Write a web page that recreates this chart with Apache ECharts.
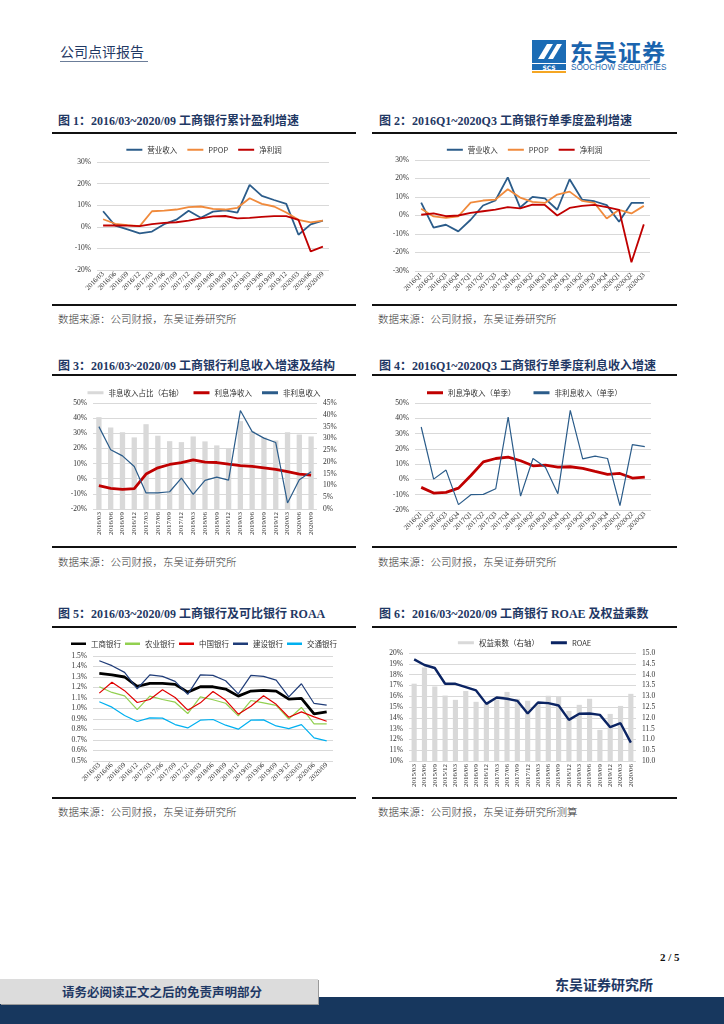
<!DOCTYPE html>
<html><head><meta charset="utf-8">
<script src="https://cdn.jsdelivr.net/npm/echarts@6.0.0/dist/echarts.min.js"></script>
<style>
html,body{margin:0;padding:0;background:#fff;}
#page{position:relative;width:724px;height:1024px;overflow:hidden;background:#fff;font-family:"Liberation Serif","Noto Sans CJK SC",serif;}
.abs{position:absolute;white-space:nowrap;}
.title{font-size:12px;font-weight:bold;color:#1F3864;line-height:14px;}
.src{font-size:10.5px;color:#333;line-height:12px;font-family:"Noto Sans CJK SC",sans-serif;font-weight:300;}
.rule{position:absolute;height:2px;background:#111;}
.chart{position:absolute;}
</style>
</head><body>
<div id="page">
  <!-- header -->
  <div class="abs" style="left:60px;top:43px;font-size:14px;color:#1F3864;font-family:'Noto Sans CJK SC';line-height:17px;">公司点评报告</div>
  <div class="abs" style="left:60px;top:61px;width:88px;height:1px;background:#6b7d99;"></div>
  <svg class="abs" style="left:532px;top:40px" width="36" height="33" viewBox="0 0 36 33">
    <rect x="0" y="0" width="34" height="23" fill="#1b6cb5"/>
    <path d="M6 19 L15 4 L21 4 L12 19 Z" fill="#fff"/>
    <path d="M16 19 L25 4 L30 4 L21 19 Z" fill="#fff"/>
    <rect x="0" y="24" width="34" height="6" fill="#1b6cb5"/>
    <text x="17" y="29.5" font-size="6" fill="#fff" text-anchor="middle" font-family="DejaVu Sans" font-weight="bold">SCS</text>
    <rect x="0" y="31" width="34" height="2" fill="#f5a623"/>
  </svg>
  <div class="abs" style="left:570px;top:38px;font-size:23px;font-weight:bold;color:#1b64ae;font-family:'Noto Sans CJK SC';line-height:26px;letter-spacing:1px;">东吴证券</div>
  <div class="abs" style="left:571px;top:63px;font-size:8.2px;color:#1b64ae;font-family:'Liberation Sans';line-height:10px;">SOOCHOW SECURITIES</div>

  <!-- row 1 -->
  <div class="abs title" style="left:58px;top:114px;">图 1：2016/03~2020/09 工商银行累计盈利增速</div>
  <div class="abs title" style="left:379px;top:114px;">图 2：2016Q1~2020Q3 工商银行单季度盈利增速</div>
  <div class="rule" style="left:52px;top:132px;width:304px;"></div>
  <div class="rule" style="left:372px;top:132px;width:305px;"></div>
  <div class="chart" id="c1" style="left:52px;top:135px;width:304px;height:168px;"></div>
  <div class="chart" id="c2" style="left:372px;top:135px;width:305px;height:168px;"></div>
  <div class="rule" style="left:52px;top:304px;width:304px;"></div>
  <div class="rule" style="left:372px;top:304px;width:305px;"></div>
  <div class="abs src" style="left:58px;top:313px;">数据来源：公司财报，东吴证券研究所</div>
  <div class="abs src" style="left:378px;top:313px;">数据来源：公司财报，东吴证券研究所</div>

  <!-- row 2 -->
  <div class="abs title" style="left:58px;top:359px;">图 3：2016/03~2020/09 工商银行利息收入增速及结构</div>
  <div class="abs title" style="left:379px;top:359px;">图 4：2016Q1~2020Q3 工商银行单季度利息收入增速</div>
  <div class="rule" style="left:52px;top:374px;width:304px;"></div>
  <div class="rule" style="left:372px;top:374px;width:305px;"></div>
  <div class="chart" id="c3" style="left:52px;top:376px;width:304px;height:170px;"></div>
  <div class="chart" id="c4" style="left:372px;top:376px;width:305px;height:170px;"></div>
  <div class="rule" style="left:52px;top:546px;width:304px;"></div>
  <div class="rule" style="left:372px;top:546px;width:305px;"></div>
  <div class="abs src" style="left:58px;top:556px;">数据来源：公司财报，东吴证券研究所</div>
  <div class="abs src" style="left:378px;top:556px;">数据来源：公司财报，东吴证券研究所</div>

  <!-- row 3 -->
  <div class="abs title" style="left:58px;top:607px;">图 5：2016/03~2020/09 工商银行及可比银行 ROAA</div>
  <div class="abs title" style="left:379px;top:607px;">图 6：2016/03~2020/09 工商银行 ROAE 及权益乘数</div>
  <div class="rule" style="left:52px;top:626px;width:304px;"></div>
  <div class="rule" style="left:372px;top:626px;width:305px;"></div>
  <div class="chart" id="c5" style="left:52px;top:628px;width:304px;height:168px;"></div>
  <div class="chart" id="c6" style="left:372px;top:628px;width:305px;height:168px;"></div>
  <div class="rule" style="left:52px;top:797px;width:304px;"></div>
  <div class="rule" style="left:372px;top:797px;width:305px;"></div>
  <div class="abs src" style="left:58px;top:806px;">数据来源：公司财报，东吴证券研究所</div>
  <div class="abs src" style="left:378px;top:806px;">数据来源：公司财报，东吴证券研究所测算</div>

  <!-- footer -->
  <div class="abs" style="left:660px;top:951px;font-size:11px;font-weight:bold;color:#111;">2 / 5</div>
  <div class="abs" style="left:0;top:997px;width:724px;height:27px;background:#17375E;"></div>
  <div class="abs" style="left:0;top:979px;width:318px;height:25px;background:#DCDCDC;box-shadow:1px 1px 0 #9a9a9a;"></div>
  <div class="abs" style="left:62px;top:984px;font-size:12.5px;font-weight:bold;color:#1F3864;font-family:'Noto Sans CJK SC';line-height:15px;">请务必阅读正文之后的免责声明部分</div>
  <div class="abs" style="left:555px;top:976px;font-size:14px;font-weight:bold;color:#1F3864;font-family:'Noto Sans CJK SC';line-height:17px;">东吴证券研究所</div>
</div>

<script>
// ---------- categories ----------
const catsMonthly = ['2016/03','2016/06','2016/09','2016/12','2017/03','2017/06','2017/09','2017/12','2018/03','2018/06','2018/09','2018/12','2019/03','2019/06','2019/09','2019/12','2020/03','2020/06','2020/09'];
const catsQuarter = ['2016Q1','2016Q2','2016Q3','2016Q4','2017Q1','2017Q2','2017Q3','2017Q4','2018Q1','2018Q2','2018Q3','2018Q4','2019Q1','2019Q2','2019Q3','2019Q4','2020Q1','2020Q2','2020Q3'];
const catsRoae = ['2015/03','2015/06','2015/09','2015/12','2016/03','2016/06','2016/09','2016/12','2017/03','2017/06','2017/09','2017/12','2018/03','2018/06','2018/09','2018/12','2019/03','2019/06','2019/09','2019/12','2020/03','2020/06'];

// ---------- chart 1: cumulative profit growth (%) ----------
const c1Revenue = [7.2,0.5,-1.2,-3.0,-2.2,1.2,3.3,7.4,4.2,7.0,7.6,6.6,19.4,14.3,12.4,10.6,-3.7,1.1,2.9];
const c1Ppop    = [3.5,1.4,0.8,0.3,7.2,7.5,8.0,9.1,9.4,8.3,8.0,8.8,13.2,10.6,9.4,6.6,3.2,2.0,2.9];
const c1Profit  = [0.6,0.6,0.5,0.3,1.2,1.8,2.1,2.9,3.9,4.8,5.0,3.9,4.1,4.6,4.9,4.9,3.2,-11.4,-9.2];

// ---------- chart 2: single-quarter profit growth (%) ----------
const c2Revenue = [7.0,-6.6,-5.0,-8.6,-2.3,5.4,8.1,20.6,4.3,10.1,9.3,3.1,19.6,8.6,7.7,5.6,-3.4,6.8,6.8];
const c2Ppop    = [3.6,-0.5,-1.3,-0.4,7.0,8.1,8.6,14.2,9.7,7.4,6.8,11.3,12.9,7.9,6.8,-1.6,3.1,1.1,5.2];
const c2Profit  = [0.4,1.1,-0.4,0.0,1.4,2.3,3.2,4.5,3.8,5.9,5.7,0.0,4.1,5.2,5.7,4.5,3.1,-25.3,-4.8];

// ---------- chart 3: interest income growth & structure ----------
const c3NonIntShare = [39.0,34.6,32.6,30.4,36.0,31.1,28.8,28.4,30.8,28.7,27.0,25.8,37.3,33.0,30.4,29.1,32.6,31.6,30.8];
const c3NetInt      = [-4.6,-6.4,-7.0,-6.6,3.1,7.2,9.4,10.7,12.5,11.0,10.7,9.6,8.6,8.1,7.2,6.1,4.6,3.1,2.4];
const c3NonInt      = [34.4,19.1,15.1,8.1,-9.4,-9.4,-8.6,0.4,-10.3,-1.1,1.1,-0.9,45.0,31.1,26.8,23.9,-16.0,-0.7,4.6];

// ---------- chart 4: single-quarter interest income growth ----------
const c4NetInt = [-5.2,-8.9,-8.5,-5.7,2.6,11.5,13.7,14.6,12.2,8.9,9.3,8.0,8.3,7.2,5.2,3.3,3.9,0.9,1.5];
const c4NonInt = [34.3,0.2,6.1,-16.5,-10.0,-9.8,-6.1,40.7,-10.9,13.7,8.0,-9.3,45.2,13.5,15.2,13.7,-17.2,22.8,21.5];

// ---------- chart 5: ROAA (%) ----------
const roaaICBC = [1.334,1.32,1.30,1.21,1.24,1.24,1.23,1.156,1.207,1.207,1.185,1.118,1.166,1.172,1.166,1.089,1.096,0.949,0.968];
const roaaABC  = [1.207,1.153,1.12,0.99,1.118,1.086,1.06,0.952,1.11,1.083,1.05,0.93,1.076,1.054,1.03,0.90,1.01,0.853,0.853];
const roaaBOC  = [1.146,1.25,1.17,1.057,1.086,1.178,1.105,0.984,1.054,1.162,1.08,0.946,1.022,1.121,1.04,0.917,0.968,0.92,0.879];
const roaaCCB  = [1.455,1.408,1.344,1.188,1.32,1.306,1.258,1.134,1.32,1.315,1.264,1.14,1.315,1.306,1.27,1.111,1.236,1.048,1.032];
const roaaBOCOM= [1.064,1.013,0.933,0.876,0.911,0.908,0.847,0.815,0.889,0.895,0.841,0.803,0.889,0.892,0.834,0.809,0.847,0.72,0.691];

// ---------- chart 6: ROAE (%) and equity multiplier ----------
const roae   = [19.41,18.89,18.61,17.15,17.15,16.84,16.53,15.29,15.88,15.76,15.57,14.40,15.42,15.36,15.14,13.81,14.37,14.40,14.27,13.13,13.50,11.70];
const eqMult = [13.58,14.33,13.45,13.03,12.83,13.24,12.74,12.65,12.85,13.20,12.88,12.79,12.68,13.02,12.96,12.32,12.60,12.88,11.44,12.18,12.55,13.11];

// ---------- helpers ----------
const FONT = 'Liberation Serif, Noto Sans CJK SC, serif';
const LFONT = 'Noto Sans CJK SC, sans-serif';
function catAxis(data, rotate){
  return {type:'category', data:data, boundaryGap:true,
    axisLine:{show:false}, axisTick:{show:false},
    axisLabel:{rotate:rotate, interval:0, fontSize:7, fontFamily:FONT, color:'#333', margin:3}};
}
function valAxis(min,max,interval,fmt,split){
  return {type:'value', min:min, max:max, interval:interval,
    axisLine:{show:false}, axisTick:{show:false},
    splitLine:{show:split!==false, lineStyle:{color:'#D9D9D9', width:1}},
    axisLabel:{fontSize:7.5, fontFamily:FONT, color:'#333', margin:6, formatter:fmt}};
}
function line(name,data,color,width,yi){
  return {type:'line', name:name, data:data, yAxisIndex:yi||0, symbol:'none', smooth:false,
    lineStyle:{color:color, width:width}, itemStyle:{color:color}, z:3};
}
function legend(items, extra){
  return Object.assign({top:6, left:'center', itemWidth:16, itemHeight:2, itemGap:10,
    textStyle:{fontSize:7.5, fontFamily:LFONT, color:'#333'}, icon:'rect', data:items}, extra||{});
}
const pct = v => v + '%';

function mk(id, opt){
  const c = echarts.init(document.getElementById(id), null, {renderer:'canvas'});
  opt.animation = false;
  c.setOption(opt);
}

// chart 1
mk('c1', {
  legend: legend(['营业收入','PPOP','净利润']),
  grid:{left:45, top:27, width:232, height:108},
  xAxis: catAxis(catsMonthly, 45),
  yAxis: valAxis(-20,30,10,pct),
  series:[
    line('营业收入', c1Revenue, '#2B5C8A', 1.8),
    line('PPOP', c1Ppop, '#F08A3C', 1.8),
    line('净利润', c1Profit, '#C00000', 1.8)
  ]
});

// chart 2
mk('c2', {
  legend: legend(['营业收入','PPOP','净利润']),
  grid:{left:43, top:25, width:235, height:111},
  xAxis: catAxis(catsQuarter, 45),
  yAxis: valAxis(-30,30,10,pct),
  series:[
    line('营业收入', c2Revenue, '#2B5C8A', 1.8),
    line('PPOP', c2Ppop, '#F08A3C', 1.8),
    line('净利润', c2Profit, '#C00000', 1.8)
  ]
});

// chart 3
mk('c3', {
  legend: legend([
    {name:'非息收入占比（右轴）', icon:'rect', itemStyle:{color:'#D9D9D9'}},
    {name:'利息净收入'},
    {name:'非利息收入'}
  ], {itemHeight:3, top:8}),
  grid:{left:41, top:27, width:224, height:106},
  xAxis: catAxis(catsMonthly, 90),
  yAxis: [valAxis(-20,50,10,pct), valAxis(0,45,5,pct,false)],
  series:[
    {type:'bar', name:'非息收入占比（右轴）', data:c3NonIntShare, yAxisIndex:1, barWidth:'45%',
      itemStyle:{color:'#D9D9D9'}, z:1},
    line('利息净收入', c3NetInt, '#C00000', 2.8),
    line('非利息收入', c3NonInt, '#2B5C8A', 1.2)
  ]
});

// chart 4
mk('c4', {
  legend: legend(['利息净收入（单季）','非利息收入（单季）'], {itemHeight:3, top:8, itemGap:18}),
  grid:{left:43, top:27, width:236, height:107},
  xAxis: catAxis(catsQuarter, 45),
  yAxis: valAxis(-20,50,10,pct),
  series:[
    line('利息净收入（单季）', c4NetInt, '#C00000', 2.8),
    line('非利息收入（单季）', c4NonInt, '#2B5C8A', 1.2)
  ]
});

// chart 5
mk('c5', {
  legend: legend(['工商银行','农业银行','中国银行','建设银行','交通银行'], {itemGap:4, itemWidth:15, itemHeight:2.5, top:7}),
  grid:{left:41, top:28, width:240, height:105},
  xAxis: catAxis(catsMonthly, 45),
  yAxis: valAxis(0.5,1.5,0.1, v => v.toFixed(1)+'%'),
  series:[
    line('工商银行', roaaICBC, '#000000', 2.8),
    line('农业银行', roaaABC, '#92D050', 1.2),
    line('中国银行', roaaBOC, '#E00000', 1.2),
    line('建设银行', roaaCCB, '#1F3C78', 1.2),
    line('交通银行', roaaBOCOM, '#00B0F0', 1.2)
  ]
});

// chart 6
mk('c6', {
  legend: legend([
    {name:'权益乘数（右轴）', icon:'rect', itemStyle:{color:'#D9D9D9'}},
    {name:'ROAE'}
  ], {itemHeight:3, top:6, itemGap:12}),
  grid:{left:37, top:25, width:227, height:108},
  xAxis: catAxis(catsRoae, 90),
  yAxis: [valAxis(10,20,1,pct), valAxis(10,15,0.5, v => v.toFixed(1), false)],
  series:[
    {type:'bar', name:'权益乘数（右轴）', data:eqMult, yAxisIndex:1, barWidth:'50%',
      itemStyle:{color:'#D9D9D9'}, z:1},
    line('ROAE', roae, '#0B2463', 2.4)
  ]
});
</script>
</body></html>
